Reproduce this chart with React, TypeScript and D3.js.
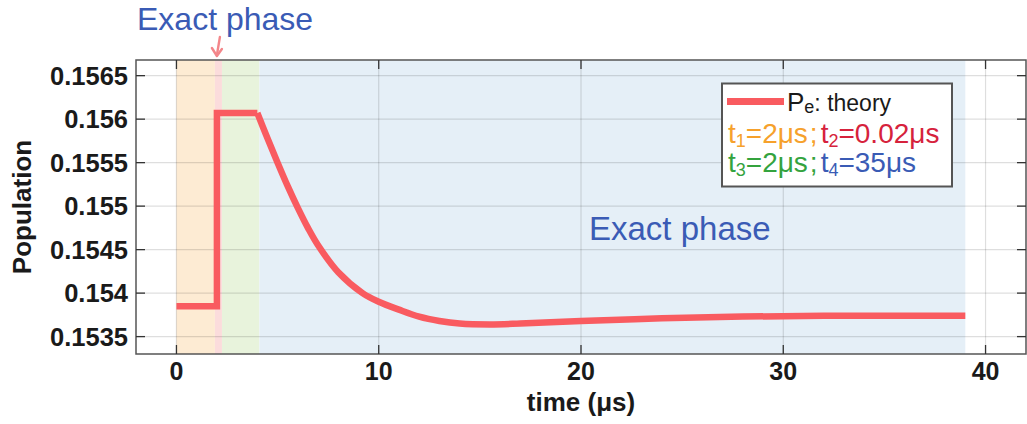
import React from 'react'
import * as d3 from 'd3'

const [W, H] = [1027, 424]
const margin = { left: 136, right: 1, top: 60, bottom: 70 }

const xTicks = [0, 10, 20, 30, 40]
const yTicks = [0.1535, 0.154, 0.1545, 0.155, 0.1555, 0.156, 0.1565]
const yTickLabels = ['0.1535', '0.154', '0.1545', '0.155', '0.1555', '0.156', '0.1565']

// shaded phases (time in µs); t2 is drawn wider than 0.02 so it can be seen
const phaseStart = [0, 1.9, 2.25, 4.1]
const phaseEnd = [1.9, 2.25, 4.1, 39]
const phaseColors = ['#fdebd3', '#fbdcdc', '#e8f3dc', '#e5eff7']

// Pe theory: step part then relaxation
const stepTimes = [0, 2, 2, 4]
const stepValues = [0.15385, 0.15385, 0.15607, 0.15607]
const decayTimes = [4, 4.5, 5, 5.5, 6, 6.5, 7, 8, 9.2, 10, 11, 12, 13, 14, 15.5, 17, 20, 24, 28, 32, 36, 39]
const decayValues = [0.15607, 0.15578, 0.1555, 0.15523, 0.15498, 0.15475, 0.15455, 0.15424, 0.154, 0.1539,
  0.15381, 0.15373, 0.15368, 0.15365, 0.15364, 0.15365, 0.15368, 0.15371, 0.15373, 0.15374, 0.15374, 0.15374]

const FONT = 'Liberation Sans, Arial, sans-serif'
const LINE = '#f95b60'
const ORANGE = '#f6a12c'
const RED = '#d6223c'
const GREEN = '#34a33e'
const BLUE = '#3a5bb5'

export default function App() {
  const x = d3.scaleLinear().domain([-2, 42]).range([margin.left, W - margin.right])
  const y = d3.scaleLinear().domain([0.1533, 0.15668]).range([H - margin.bottom, margin.top])
  const [x0, x1] = x.range()
  const [y1, y0] = y.range()

  const linear = d3.line<number>().x((_, i) => x(stepTimes[i])).y(d => y(d))
  const smooth = d3.line<number>().x((_, i) => x(decayTimes[i])).y(d => y(d)).curve(d3.curveCatmullRom.alpha(0.5))

  const ax = x(2)
  return (
    <svg width={W} height={H} style={{ position: 'absolute', left: 0, top: 0, fontFamily: FONT }}>
      {phaseStart.map((s, i) => (
        <rect key={i} x={x(s)} y={y0} width={x(phaseEnd[i]) - x(s)} height={y1 - y0} fill={phaseColors[i]} />
      ))}
      <g stroke="#000" strokeOpacity={0.13} strokeWidth={1.2}>
        {xTicks.map(t => <line key={t} x1={x(t)} x2={x(t)} y1={y0} y2={y1} />)}
        {yTicks.map(t => <line key={t} x1={x0} x2={x1} y1={y(t)} y2={y(t)} />)}
      </g>
      <path d={linear(stepValues) ?? ''} fill="none" stroke={LINE} strokeWidth={6.5} strokeLinejoin="miter" />
      <path d={smooth(decayValues) ?? ''} fill="none" stroke={LINE} strokeWidth={6.5} />
      {/* frame and inward ticks */}
      <rect x={x0} y={y0} width={x1 - x0} height={y1 - y0} fill="none" stroke="#555" strokeWidth={1.5} />
      <g stroke="#333" strokeWidth={1.3}>
        {xTicks.map(t => <line key={'b' + t} x1={x(t)} x2={x(t)} y1={y1} y2={y1 - 9} />)}
        {xTicks.map(t => <line key={'t' + t} x1={x(t)} x2={x(t)} y1={y0} y2={y0 + 9} />)}
        {yTicks.map(t => <line key={'l' + t} x1={x0} x2={x0 + 9} y1={y(t)} y2={y(t)} />)}
        {yTicks.map(t => <line key={'r' + t} x1={x1} x2={x1 - 9} y1={y(t)} y2={y(t)} />)}
      </g>
      <g fontWeight="bold" fontSize={25.5} fill="#1a1a1a">
        {yTicks.map((t, i) => (
          <text key={t} x={x0 - 8} y={y(t)} dy="0.36em" textAnchor="end">{yTickLabels[i]}</text>
        ))}
        {xTicks.map(t => (
          <text key={t} x={x(t)} y={y1 + 26} textAnchor="middle" fontSize={25}>{t}</text>
        ))}
        <text x={x(20)} y={411} textAnchor="middle" fontSize={26}>time (μs)</text>
        <text transform={`translate(31,${(y0 + y1) / 2}) rotate(-90)`} textAnchor="middle" fontSize={26}>Population</text>
      </g>
      {/* annotations */}
      <text x={137} y={30} fontSize={32} fill={BLUE}>Exact phase</text>
      <text x={589} y={240} fontSize={33} fill={BLUE}>Exact phase</text>
      <g stroke="#f3868a" strokeWidth={2.4} fill="none" strokeLinecap="round">
        <line x1={ax + 3} x2={ax} y1={37} y2={55} />
        <path d={`M${ax - 5},${48} L${ax},${56} L${ax + 5},${49}`} strokeLinejoin="round" />
      </g>
      {/* legend */}
      <rect x={722} y={83.5} width={230} height={103} fill="#fff" stroke="#555" strokeWidth={2} />
      <line x1={727} x2={784} y1={101.5} y2={101.5} stroke={LINE} strokeWidth={7} />
      <text x={787} y={111} fill="#1a1a1a">
        <tspan fontSize={26}>P</tspan>
        <tspan fontSize={18} dy={2}>e</tspan>
        <tspan fontSize={23} dy={-2}>: theory</tspan>
      </text>
      <text x={728} y={143} fontSize={28}>
        <tspan fill={ORANGE}>t</tspan>
        <tspan fill={ORANGE} fontSize={18} dy={4}>1</tspan>
        <tspan fill={ORANGE} dy={-4}>=2μs</tspan>
        <tspan fill={ORANGE} dx={2}>;</tspan>
        <tspan fill={RED} dx={3}>t</tspan>
        <tspan fill={RED} fontSize={18} dy={4}>2</tspan>
        <tspan fill={RED} dy={-4}>=0.02μs</tspan>
      </text>
      <text x={728} y={172} fontSize={28}>
        <tspan fill={GREEN}>t</tspan>
        <tspan fill={GREEN} fontSize={18} dy={4}>3</tspan>
        <tspan fill={GREEN} dy={-4}>=2μs</tspan>
        <tspan fill={GREEN} dx={2}>;</tspan>
        <tspan fill={BLUE} dx={3}>t</tspan>
        <tspan fill={BLUE} fontSize={18} dy={4}>4</tspan>
        <tspan fill={BLUE} dy={-4}>=35μs</tspan>
      </text>
    </svg>
  )
}
